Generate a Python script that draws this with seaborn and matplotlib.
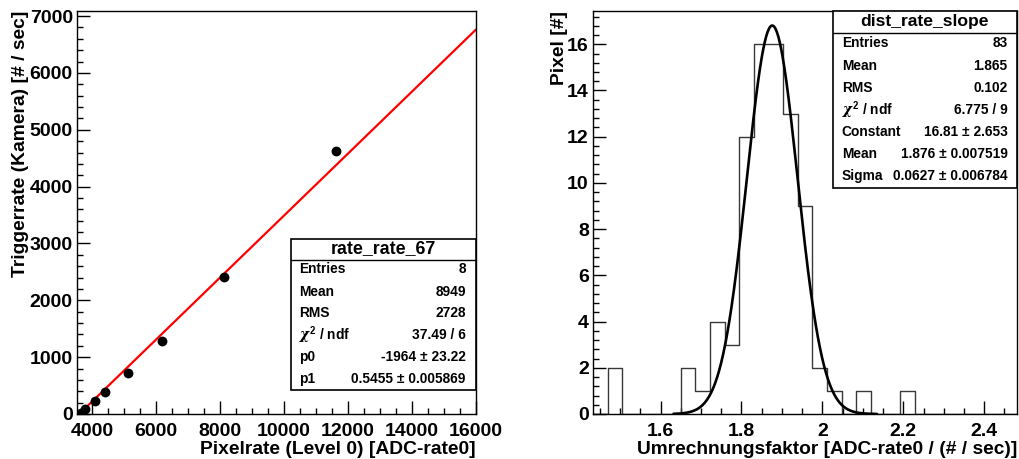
import numpy as np
import pandas as pd
import matplotlib
matplotlib.use("Agg")
import matplotlib.pyplot as plt
from matplotlib.patches import Rectangle
from matplotlib.ticker import MultipleLocator
import seaborn as sns

# ---------------- data ----------------
pixel_rate = [3666, 3781, 4104, 4406, 5135, 6198, 8125, 11615]
trigger_rate = [12, 82, 234, 392, 715, 1288, 2402, 4628]
fit_p0 = -1964.0
fit_p1 = 0.5455

hist_lo = 1.433
hist_hi = 2.481
hist_counts = [0, 2, 0, 0, 0, 0, 2, 1, 4, 3, 12, 16, 16, 13, 9, 2, 1, 0, 1, 0, 0, 1,
               0, 0, 0, 0, 0, 0, 0]
gaus_const = 16.81
gaus_mean = 1.876
gaus_sigma = 0.0627
gaus_range = [1.632, 2.135]

left_stats_title = "rate_rate_67"
left_stats_labels = ["Entries", "Mean", "RMS", r"$\chi^{2}$ / ndf", "p0", "p1"]
left_stats_values = ["8", "8949", "2728", "37.49 / 6", "-1964 \u00b1 23.22", "0.5455 \u00b1 0.005869"]

right_stats_title = "dist_rate_slope"
right_stats_labels = ["Entries", "Mean", "RMS", r"$\chi^{2}$ / ndf", "Constant", "Mean", "Sigma"]
right_stats_values = ["83", "1.865", "0.102", "6.775 / 9", "16.81 \u00b1 2.653",
                      "1.876 \u00b1 0.007519", "0.0627 \u00b1 0.006784"]

# ---------------- style ----------------
sns.set_theme(style="ticks")
plt.rcParams['font.family'] = ['Liberation Sans', 'DejaVu Sans']
plt.rcParams['font.weight'] = 'bold'
plt.rcParams['mathtext.fontset'] = 'custom'
plt.rcParams['mathtext.rm'] = 'Liberation Sans:bold'
plt.rcParams['mathtext.it'] = 'DejaVu Serif:italic'
plt.rcParams['axes.labelweight'] = 'bold'
for k in ['text.color', 'axes.labelcolor', 'xtick.color', 'ytick.color', 'axes.edgecolor']:
    plt.rcParams[k] = 'black'

fig = plt.figure(figsize=(10.2, 4.59), dpi=100)
W, H = 1020, 459

def axes_px(x0, y0, x1, y1):
    return fig.add_axes([x0 / W, 1 - y1 / H, (x1 - x0) / W, (y1 - y0) / H])

ax1 = axes_px(77, 11, 476, 414)
ax2 = axes_px(593, 11, 1017, 414)

def root_style(ax):
    for s in ax.spines.values():
        s.set_linewidth(1.0)
        s.set_color('black')
        s.set_visible(True)
    ax.tick_params(axis='both', which='major', direction='in', length=9.2, width=1.0,
                   labelsize=14, top=False, right=False, color='black', labelcolor='black')
    ax.tick_params(axis='both', which='minor', direction='in', length=4.6, width=1.0,
                   top=False, right=False, color='black')
    ax.tick_params(axis='x', which='major', pad=6.5)
    ax.tick_params(axis='y', which='major', pad=3)
    for lab in ax.get_xticklabels() + ax.get_yticklabels():
        lab.set_fontweight('bold')
    ax.set_facecolor('white')

# ---------------- left panel ----------------
df_pts = pd.DataFrame({"x": pixel_rate, "y": trigger_rate})
xlim1 = (3530, 16000)
xfit = np.array(xlim1, dtype=float)
df_fit = pd.DataFrame({"x": xfit, "y": fit_p0 + fit_p1 * xfit})
sns.lineplot(data=df_fit, x="x", y="y", ax=ax1, color="#ff0000", linewidth=1.6, zorder=2)
sns.scatterplot(data=df_pts, x="x", y="y", ax=ax1, color="black", s=50, edgecolor="black",
                linewidth=0, zorder=3)
ax1.set_xlim(*xlim1)
ax1.set_ylim(0, 7090)
ax1.xaxis.set_major_locator(MultipleLocator(2000))
ax1.xaxis.set_minor_locator(MultipleLocator(500))
ax1.yaxis.set_major_locator(MultipleLocator(1000))
ax1.yaxis.set_minor_locator(MultipleLocator(200))
root_style(ax1)
ax1.set_xlabel("Pixelrate (Level 0) [ADC-rate0]", loc="right", fontsize=13.9, fontweight='bold', labelpad=0.5)
ax1.set_ylabel("Triggerrate (Kamera) [# / sec]", loc="top", fontsize=13.9, fontweight='bold', labelpad=0.5)

# ---------------- right panel ----------------
nb = len(hist_counts)
edges = [float(e) for e in np.linspace(hist_lo, hist_hi, nb + 1)]
centers = [0.5 * (edges[i] + edges[i + 1]) for i in range(nb)]
df_h = pd.DataFrame({"x": centers, "w": hist_counts})
sns.histplot(data=df_h, x="x", weights="w", bins=edges, element="step", fill=False,
             color="#383838", linewidth=1.0, ax=ax2)
xg = np.linspace(gaus_range[0], gaus_range[1], 300)
df_g = pd.DataFrame({"x": xg, "y": gaus_const * np.exp(-0.5 * ((xg - gaus_mean) / gaus_sigma) ** 2)})
sns.lineplot(data=df_g, x="x", y="y", ax=ax2, color="black", linewidth=1.9)
ax2.set_xlim(hist_lo, hist_hi)
ax2.set_ylim(0, 17.44)
ax2.xaxis.set_major_locator(MultipleLocator(0.2))
ax2.xaxis.set_minor_locator(MultipleLocator(0.05))
ax2.yaxis.set_major_locator(MultipleLocator(2))
ax2.yaxis.set_minor_locator(MultipleLocator(0.4))
ax2.set_xticks([1.6, 1.8, 2.0, 2.2, 2.4])
ax2.set_xticklabels(["1.6", "1.8", "2", "2.2", "2.4"])
root_style(ax2)
ax2.set_xlabel("Umrechnungsfaktor [ADC-rate0 / (# / sec)]", loc="right", fontsize=13.8, fontweight='bold', labelpad=0.5)
ax2.set_ylabel("Pixel [#]", loc="top", fontsize=13.9, fontweight='bold', labelpad=-1.0)

# ---------------- stats boxes ----------------
def stats_box(ax, x0, y0, x1, y1, sep_y, title_y, row_ys, lab_x, val_x, title, labels, values, tsize):
    ax.add_patch(Rectangle((x0, y0), x1 - x0, y1 - y0, transform=ax.transAxes,
                           facecolor="white", edgecolor="black", linewidth=1.2,
                           zorder=5, clip_on=False))
    ax.plot([x0, x1], [sep_y, sep_y], transform=ax.transAxes, color="black",
            linewidth=1.0, zorder=6, clip_on=False)
    ax.text((x0 + x1) / 2, title_y, title, transform=ax.transAxes, ha="center", va="center",
            fontsize=tsize, fontweight="bold", zorder=7)
    for ry, lab, val in zip(row_ys, labels, values):
        ax.text(lab_x, ry, lab, transform=ax.transAxes, ha="left", va="center",
                fontsize=9.9, fontweight="bold", zorder=7)
        ax.text(val_x, ry, val, transform=ax.transAxes, ha="right", va="center",
                fontsize=9.9, fontweight="bold", zorder=7)

def fy(py, top=11, bot=414):
    return (bot - py) / (bot - top)

stats_box(ax1, (290.7 - 77) / 399, fy(389.5), 1.0, fy(238.7), fy(260), fy(248.7),
          [fy(p) for p in [269.3, 292, 313.3, 335, 356.7, 379.3]],
          (299.3 - 77) / 399, (465.7 - 77) / 399,
          left_stats_title, left_stats_labels, left_stats_values, 12.8)

stats_box(ax2, (832.7 - 593) / 424, fy(188), 1.0, 1.0, fy(32.7), fy(21.7),
          [fy(p) for p in [43.3, 65.7, 87.7, 110, 131.7, 154.3, 176]],
          (841.7 - 593) / 424, (1007.7 - 593) / 424,
          right_stats_title, right_stats_labels, right_stats_values, 12.6)

fig.savefig("out.png", dpi=100, facecolor="white")
